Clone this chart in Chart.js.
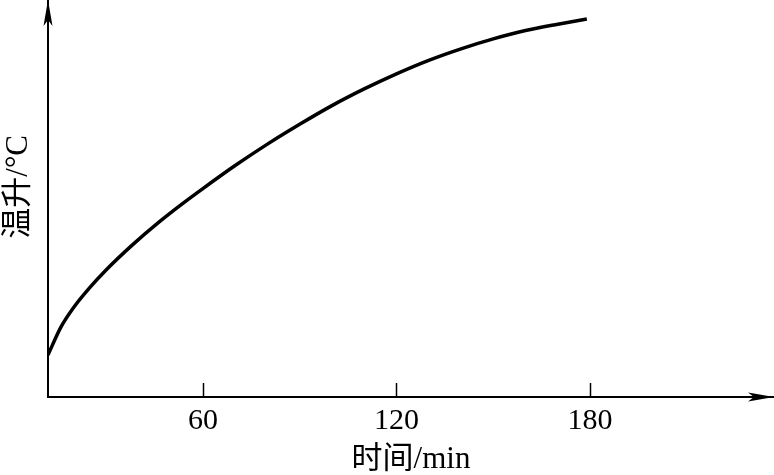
<!DOCTYPE html>
<html>
<head>
<meta charset="utf-8">
<script src="https://cdn.jsdelivr.net/npm/chart.js@4/dist/chart.umd.min.js"></script>
<style>
  html, body { margin: 0; padding: 0; background: #fff; }
  #wrap { width: 774px; height: 475px; }
</style>
</head>
<body>
<div id="wrap"><canvas id="riseChart"></canvas></div>
<script>
// time in minutes, temperature rise (arbitrary units, no y ticks in the source)
var times = [12, 16, 20, 25, 30, 38, 46, 54, 60, 70, 80, 90, 100, 110, 120, 130, 140, 150, 160, 170, 179];
var rise = [10.6, 17.6, 22.6, 27.6, 32.0, 38.2, 43.8, 48.9, 52.5, 58.3, 63.7, 68.7, 73.4, 77.6, 81.4, 84.8, 87.7, 90.2, 92.3, 93.9, 95.2];
var xTicks = [60, 120, 180];

var FONT = '"Liberation Serif", "Times New Roman", "Noto Sans CJK SC", serif';

// inward tick marks and axis arrowheads
var axisDeco = {
  id: 'axisDeco',
  afterDraw: function(chart) {
    var ctx = chart.ctx;
    var a = chart.chartArea;
    var xs = chart.scales.x;
    ctx.save();
    ctx.strokeStyle = '#000';
    ctx.lineWidth = 1.5;
    xTicks.forEach(function(v) {
      var px = Math.round(xs.getPixelForValue(v)) + 0.5;
      ctx.beginPath();
      ctx.moveTo(px, a.bottom);
      ctx.lineTo(px, a.bottom - 14);
      ctx.stroke();
    });
    ctx.fillStyle = '#000';
    // x arrow
    ctx.beginPath();
    ctx.moveTo(a.right, a.bottom);
    ctx.lineTo(a.right - 26, a.bottom - 4.5);
    ctx.lineTo(a.right - 20, a.bottom);
    ctx.lineTo(a.right - 26, a.bottom + 4.5);
    ctx.closePath();
    ctx.fill();
    // y arrow
    ctx.beginPath();
    ctx.moveTo(a.left, a.top);
    ctx.lineTo(a.left - 4.5, a.top + 26);
    ctx.lineTo(a.left, a.top + 20);
    ctx.lineTo(a.left + 4.5, a.top + 26);
    ctx.closePath();
    ctx.fill();
    ctx.restore();
  }
};

new Chart(document.getElementById('riseChart'), {
  type: 'line',
  data: {
    labels: times,
    datasets: [{
      label: '温升',
      data: times.map(function(t, i) { return { x: t, y: rise[i] }; }),
      borderColor: '#000',
      borderWidth: 3.5,
      pointRadius: 0,
      cubicInterpolationMode: 'monotone',
      fill: false
    }]
  },
  options: {
    responsive: true,
    maintainAspectRatio: false,
    animation: false,
    layout: { padding: 0 },
    plugins: { legend: { display: false }, tooltip: { enabled: false } },
    scales: {
      x: {
        type: 'linear',
        min: 12,
        max: 237,
        afterBuildTicks: function(scale) {
          scale.ticks = xTicks.map(function(v) { return { value: v }; });
        },
        afterFit: function(scale) { scale.height = 78; },
        grid: { display: false, drawTicks: false },
        border: { display: true, color: '#000', width: 2 },
        ticks: {
          color: '#000',
          padding: 6,
          font: { family: FONT, size: 30 },
          maxRotation: 0
        },
        title: {
          display: true,
          text: '时间/min',
          color: '#000',
          padding: { top: 0, bottom: 0 },
          font: { family: FONT, size: 31, lineHeight: 1.0 }
        }
      },
      y: {
        min: 0,
        max: 100,
        afterFit: function(scale) { scale.width = 48; },
        grid: { display: false, drawTicks: false },
        border: { display: true, color: '#000', width: 2 },
        ticks: { display: false },
        title: {
          display: true,
          text: '   温升/°C',
          color: '#000',
          padding: 0,
          font: { family: FONT, size: 31 }
        }
      }
    }
  },
  plugins: [axisDeco]
});
</script>
</body>
</html>
